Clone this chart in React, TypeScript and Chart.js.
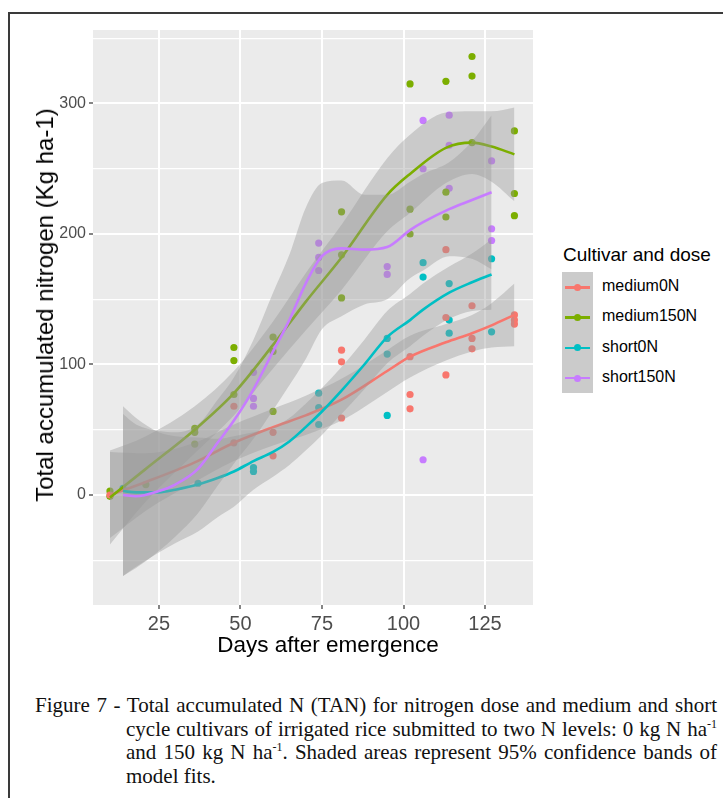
import React, { useEffect, useRef } from "react";
import { Chart, registerables } from "chart.js";

Chart.register(...registerables);

// ---- observed totals (kg N/ha) by sampling day ----
const medium0N_pts = [
  { x: 10, y: 0 },
  { x: 48, y: 68 }, { x: 48, y: 40 },
  { x: 60, y: 48 }, { x: 60, y: 30 },
  { x: 81, y: 111 }, { x: 81, y: 102 }, { x: 81, y: 59 },
  { x: 102, y: 106 }, { x: 102, y: 77 }, { x: 102, y: 66 },
  { x: 113, y: 188 }, { x: 113, y: 136 }, { x: 113, y: 92 },
  { x: 121, y: 145 }, { x: 121, y: 120 }, { x: 121, y: 112 },
  { x: 134, y: 138 }, { x: 134, y: 134 }, { x: 134, y: 131 },
];
const medium150N_pts = [
  { x: 10, y: 3 }, { x: 10, y: -1 },
  { x: 21, y: 8 },
  { x: 36, y: 51 }, { x: 36, y: 48 }, { x: 36, y: 39 },
  { x: 48, y: 113 }, { x: 48, y: 103 }, { x: 48, y: 77 },
  { x: 60, y: 121 }, { x: 60, y: 110 }, { x: 60, y: 64 },
  { x: 81, y: 217 }, { x: 81, y: 184 }, { x: 81, y: 151 },
  { x: 102, y: 315 }, { x: 102, y: 219 }, { x: 102, y: 200 },
  { x: 113, y: 317 }, { x: 113, y: 232 }, { x: 113, y: 213 },
  { x: 121, y: 336 }, { x: 121, y: 321 }, { x: 121, y: 270 },
  { x: 134, y: 279 }, { x: 134, y: 231 }, { x: 134, y: 214 },
];
const short0N_pts = [
  { x: 14, y: 5 },
  { x: 37, y: 9 },
  { x: 54, y: 21 }, { x: 54, y: 18 },
  { x: 74, y: 78 }, { x: 74, y: 67 }, { x: 74, y: 54 },
  { x: 95, y: 120 }, { x: 95, y: 108 }, { x: 95, y: 61 },
  { x: 106, y: 178 }, { x: 106, y: 167 },
  { x: 114, y: 162 }, { x: 114, y: 134 }, { x: 114, y: 124 },
  { x: 127, y: 181 }, { x: 127, y: 125 },
];
const short150N_pts = [
  { x: 54, y: 94 }, { x: 54, y: 74 }, { x: 54, y: 68 },
  { x: 74, y: 193 }, { x: 74, y: 182 }, { x: 74, y: 172 },
  { x: 95, y: 175 }, { x: 95, y: 169 },
  { x: 106, y: 287 }, { x: 106, y: 250 }, { x: 106, y: 27 },
  { x: 114, y: 291 }, { x: 114, y: 268 }, { x: 114, y: 235 },
  { x: 127, y: 256 }, { x: 127, y: 204 }, { x: 127, y: 195 },
];

// ---- smoothed fits with 95% bands ----
const fitDaysMedium = [10, 21, 36, 48, 60, 70, 81, 95, 102, 113, 121, 127, 134];
const medium0N_fit = [0, 10, 25, 40, 52, 61, 73, 95, 106, 117, 124, 130, 138];
const medium0N_lo = [-33, -12, 10, 26, 38, 46, 57, 79, 90, 103, 110, 113, 114];
const medium0N_hi = [33, 32, 40, 54, 66, 76, 89, 111, 122, 131, 138, 147, 162];
const medium150N_fit = [-2, 20, 50, 78, 115, 148, 182, 230, 246, 266, 270, 267, 261];
const medium150N_lo = [-38, -5, 32, 61, 97, 126, 157, 202, 216, 239, 246, 240, 225];
const medium150N_hi = [34, 45, 68, 95, 133, 170, 207, 258, 276, 293, 294, 294, 297];

const fitDaysShort = [14, 18, 25, 30, 37, 43, 48, 54, 60, 65, 70, 75, 81, 88, 95, 102, 106, 114, 121, 127];
const short0N_fit = [3, 2, 2, 4, 8, 13, 18, 26, 33, 41, 52, 64, 80, 100, 121, 134, 142, 155, 163, 169];
const short0N_lo = [-62, -55, -44, -37, -28, -17, -9, 4, 14, 23, 34, 46, 62, 81, 101, 114, 122, 135, 141, 142];
const short0N_hi = [68, 59, 48, 45, 44, 43, 45, 48, 52, 59, 70, 82, 98, 119, 141, 154, 162, 175, 185, 196];
const short150N_fit = [0, -1, 3, 8, 20, 40, 57, 81, 110, 134, 162, 183, 189, 188, 190, 203, 209, 219, 226, 232];
const short150N_lo = [-62, -56, -43, -32, -14, 7, 24, 43, 65, 84, 104, 127, 137, 146, 150, 166, 172, 183, 181, 173];
const short150N_hi = [62, 54, 49, 48, 54, 73, 90, 119, 155, 184, 220, 239, 241, 230, 230, 240, 246, 255, 271, 291];

const xTicks = [25, 50, 75, 100, 125];
const yTicks = [0, 100, 200, 300];

const seriesNames = ["medium0N", "medium150N", "short0N", "short150N"];
const seriesColors = ["#F8766D", "#7CAE00", "#00BFC4", "#C77CFF"];

const BAND_FILL = "rgba(153,153,153,0.4)";
const SANS = "'Liberation Sans', Arial, sans-serif";
const SERIF = "'Liberation Serif', 'Times New Roman', serif";

const pair = (xs: number[], ys: number[]) => xs.map((x, i) => ({ x, y: ys[i] }));

const panelBackground = {
  id: "panelBackground",
  beforeDraw(chart: any) {
    const { ctx, chartArea } = chart;
    ctx.save();
    ctx.fillStyle = "#EBEBEB";
    ctx.fillRect(chartArea.left, chartArea.top, chartArea.right - chartArea.left, chartArea.bottom - chartArea.top);
    ctx.restore();
  },
};

export default function App() {
  const canvasRef = useRef<HTMLCanvasElement | null>(null);

  useEffect(() => {
    if (!canvasRef.current) return;

    const pointSets = [medium0N_pts, medium150N_pts, short0N_pts, short150N_pts];
    const fits = [
      { xs: fitDaysMedium, fit: medium0N_fit, lo: medium0N_lo, hi: medium0N_hi },
      { xs: fitDaysMedium, fit: medium150N_fit, lo: medium150N_lo, hi: medium150N_hi },
      { xs: fitDaysShort, fit: short0N_fit, lo: short0N_lo, hi: short0N_hi },
      { xs: fitDaysShort, fit: short150N_fit, lo: short150N_lo, hi: short150N_hi },
    ];

    const datasets: any[] = [];
    // raw observations sit underneath the smooths
    pointSets.forEach((pts, i) => {
      datasets.push({
        label: seriesNames[i] + " obs",
        data: pts,
        showLine: false,
        pointRadius: 3.6,
        pointBorderWidth: 0,
        pointBackgroundColor: seriesColors[i],
        order: 100,
      });
    });
    // ribbon then fitted line, group by group
    fits.forEach((f, i) => {
      const base = 80 - i * 10;
      const loIndex = datasets.length + 1;
      datasets.push({
        label: seriesNames[i] + " upper",
        data: pair(f.xs, f.hi),
        borderWidth: 0,
        pointRadius: 0,
        backgroundColor: BAND_FILL,
        fill: loIndex,
        cubicInterpolationMode: "monotone",
        order: base,
      });
      datasets.push({
        label: seriesNames[i] + " lower",
        data: pair(f.xs, f.lo),
        borderWidth: 0,
        pointRadius: 0,
        fill: false,
        cubicInterpolationMode: "monotone",
        order: base,
      });
      datasets.push({
        label: seriesNames[i],
        data: pair(f.xs, f.fit),
        borderColor: seriesColors[i],
        borderWidth: 2.6,
        pointRadius: 0,
        fill: false,
        cubicInterpolationMode: "monotone",
        order: base - 1,
      });
    });

    const chart = new Chart(canvasRef.current, {
      type: "line",
      data: { datasets },
      plugins: [panelBackground],
      options: {
        animation: false,
        responsive: false,
        devicePixelRatio: 1,
        layout: { padding: { top: 30, right: 12, left: 0, bottom: 0 } },
        plugins: { legend: { display: false }, tooltip: { enabled: false } },
        scales: {
          x: {
            type: "linear",
            min: 4.8,
            max: 139.7,
            afterFit: (s: any) => { s.height = 60; },
            afterBuildTicks: (s: any) => { s.ticks = xTicks.map((v) => ({ value: v })); },
            ticks: {
              autoSkip: false,
              maxRotation: 0,
              padding: 3,
              color: "#4D4D4D",
              font: { family: SANS, size: 20 },
            },
            grid: { color: "#FFFFFF", lineWidth: 2, tickLength: 4, tickColor: "#333333", tickWidth: 1.2 },
            border: { display: false },
          },
          y: {
            type: "linear",
            min: -84.3,
            max: 356.3,
            afterFit: (s: any) => { s.width = 93; },
            ticks: {
              stepSize: 50,
              includeBounds: false,
              autoSkip: false,
              padding: 3,
              color: "#4D4D4D",
              font: { family: SANS, size: 16 },
              callback: (v: any) => (yTicks.includes(Number(v)) ? String(v) : ""),
            },
            grid: {
              color: "#FFFFFF",
              lineWidth: (c: any) => (yTicks.includes(c.tick?.value) ? 2 : 1.3),
              tickLength: 4,
              tickWidth: 1.2,
              tickColor: (c: any) => (yTicks.includes(c.tick?.value) ? "#333333" : "rgba(0,0,0,0)"),
            },
            border: { display: false },
          },
        },
      } as any,
    });
    return () => chart.destroy();
  }, []);

  const legendRows = seriesNames.map((name, i) => (
    <div key={name} style={{ position: "absolute", left: 562, top: 272 + i * 30.3, width: 160, height: 30.3 }}>
      <div style={{ position: "absolute", left: 3, top: 14, width: 25, height: 2.6, background: seriesColors[i] }} />
      <div style={{ position: "absolute", left: 12, top: 11.8, width: 7, height: 7, borderRadius: "50%", background: seriesColors[i] }} />
      <div style={{ position: "absolute", left: 40, top: 5, fontFamily: SANS, fontSize: 16, color: "#000", whiteSpace: "nowrap" }}>
        {name}
      </div>
    </div>
  ));

  const sup = { fontSize: 12, verticalAlign: "super", lineHeight: 0 } as React.CSSProperties;
  const capLine = (left: number, top: number, width: number, justify: boolean, content: React.ReactNode) => (
    <div
      style={{
        position: "absolute",
        left,
        top,
        width,
        fontFamily: SERIF,
        fontSize: 21,
        lineHeight: "24px",
        color: "#111",
        whiteSpace: "nowrap",
        textAlign: justify ? "justify" : "left",
        textAlignLast: justify ? "justify" : "left",
      } as React.CSSProperties}
    >
      {content}
    </div>
  );

  return (
    <div style={{ position: "absolute", left: 0, top: 0, width: 723, height: 798, background: "#fff", overflow: "hidden" }}>
      <div style={{ position: "absolute", left: 8, top: 12, width: 720, height: 790, borderLeft: "2px solid #3a3a3a", borderTop: "2px solid #3a3a3a" }} />
      <canvas ref={canvasRef} width={545} height={665} style={{ position: "absolute", left: 0, top: 0 }} />
      <div
        style={{
          position: "absolute",
          left: 45,
          top: 305,
          transform: "translate(-50%, -50%) rotate(-90deg)",
          fontFamily: SANS,
          fontSize: 24,
          whiteSpace: "nowrap",
          color: "#000",
        }}
      >
        Total accumulated nitrogen (Kg ha-1)
      </div>
      <div
        style={{
          position: "absolute",
          left: 328,
          top: 645,
          transform: "translate(-50%, -50%)",
          fontFamily: SANS,
          fontSize: 22.5,
          whiteSpace: "nowrap",
          color: "#000",
        }}
      >
        Days after emergence
      </div>
      <div style={{ position: "absolute", left: 563, top: 244, fontFamily: SANS, fontSize: 19, whiteSpace: "nowrap", color: "#000" }}>
        Cultivar and dose
      </div>
      <div style={{ position: "absolute", left: 562, top: 272, width: 31, height: 121, background: "#CBCBCB" }} />
      {legendRows}
      {capLine(35, 693, 682, true, <>Figure 7 - Total accumulated N (TAN) for nitrogen dose and medium and short</>)}
      {capLine(126, 717, 591, true, <>cycle cultivars of irrigated rice submitted to two N levels: 0 kg N ha<span style={sup}>-1</span></>)}
      {capLine(126, 740, 591, true, <>and 150 kg N ha<span style={sup}>-1</span>. Shaded areas represent 95% confidence bands of</>)}
      {capLine(126, 764, 300, false, <>model fits.</>)}
    </div>
  );
}
